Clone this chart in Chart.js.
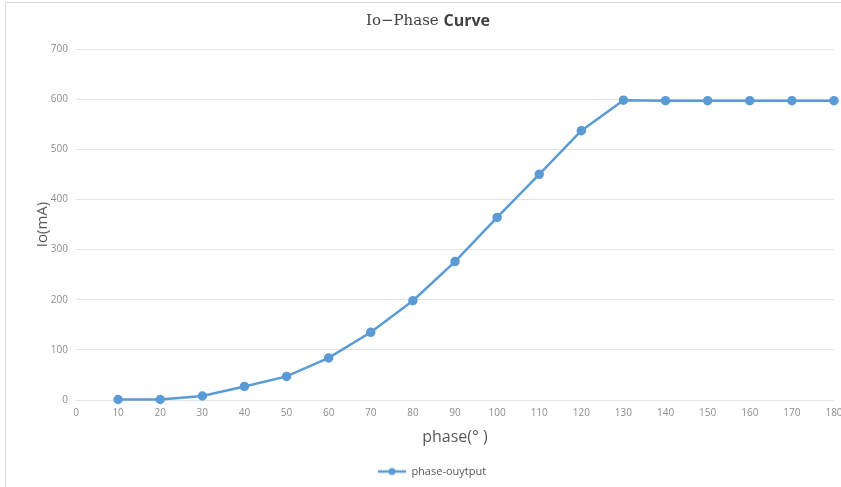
<!DOCTYPE html>
<html>
<head>
<meta charset="utf-8">
<script src="https://cdn.jsdelivr.net/npm/chart.js@4.4.1/dist/chart.umd.min.js"></script>
<style>
  html, body { margin: 0; padding: 0; background: #fff; }
  #wrap { position: relative; width: 841px; height: 487px; overflow: hidden; }
  #frame { position: absolute; left: 5px; top: 2px; width: 900px; height: 600px;
           border-left: 1px solid #d9d9d9; border-top: 1px solid #d9d9d9; pointer-events: none; }
  #box { position: absolute; left: 0; top: 0; width: 860px; height: 487px; }
</style>
</head>
<body>
<div id="wrap">
  <div id="box"><canvas id="curve"></canvas></div>
  <div id="frame"></div>
</div>
<script>
const phases = [10, 20, 30, 40, 50, 60, 70, 80, 90, 100, 110, 120, 130, 140, 150, 160, 170, 180];
const currents = [1, 1, 8, 27, 47, 84, 135, 198, 276, 364, 450, 537, 598, 597, 597, 597, 597, 597];
const seriesName = 'phase-ouytput';
const blue = '#5b9bd5';

// legend marker: short line with a dot, like the spreadsheet legend
const marker = document.createElement('canvas');
marker.width = 28; marker.height = 10;
const mctx = marker.getContext('2d');
mctx.strokeStyle = blue; mctx.lineWidth = 2.5;
mctx.beginPath(); mctx.moveTo(0, 5); mctx.lineTo(28, 5); mctx.stroke();
mctx.fillStyle = blue;
mctx.beginPath(); mctx.arc(14, 5, 3.5, 0, Math.PI * 2); mctx.fill();

// title is drawn in two fonts
const titlePlugin = {
    id: 'mixedTitle',
    afterDraw(chart) {
        const ctx = chart.ctx;
        const a = 'Io\u2212Phase ';
        const b = 'Curve';
        ctx.save();
        ctx.fillStyle = '#404040';
        ctx.textBaseline = 'middle';
        ctx.font = '15px "DejaVu Serif", "Liberation Serif", serif';
        const wa = ctx.measureText(a).width;
        ctx.font = 'bold 16px "Open Sans", "Noto Sans", sans-serif';
        const wb = ctx.measureText(b).width;
        let x = 428 - (wa + wb) / 2;
        ctx.font = '15px "DejaVu Serif", "Liberation Serif", serif';
        ctx.fillText(a, x, 21);
        ctx.font = 'bold 16px "Open Sans", "Noto Sans", sans-serif';
        ctx.fillText(b, x + wa, 21);
        ctx.restore();
    }
};

new Chart(document.getElementById('curve').getContext('2d'), {
    type: 'line',
    data: {
        datasets: [{
            label: seriesName,
            data: phases.map((p, i) => ({ x: p, y: currents[i] })),
            borderColor: blue,
            backgroundColor: blue,
            borderWidth: 2.5,
            pointRadius: 3.5,
            pointHoverRadius: 4,
            tension: 0,
            clip: false
        }]
    },
    options: {
        responsive: true,
        maintainAspectRatio: false,
        animation: false,
        layout: { padding: { left: 30, right: 26, top: 49, bottom: 0 } },
        plugins: {
            title: { display: false },
            tooltip: { enabled: false },
            legend: {
                position: 'bottom',
                labels: {
                    usePointStyle: true,
                    pointStyleWidth: 28,
                    padding: 12,
                    color: '#595959',
                    font: { family: '"Open Sans", "Noto Sans", sans-serif', size: 11 },
                    generateLabels(chart) {
                        return Chart.defaults.plugins.legend.labels.generateLabels(chart).map(item => {
                            item.pointStyle = marker;
                            return item;
                        });
                    }
                }
            }
        },
        scales: {
            x: {
                type: 'linear',
                min: 0,
                max: 180,
                grid: { display: false, drawTicks: false },
                border: { display: false },
                ticks: {
                    stepSize: 10,
                    padding: 7,
                    color: '#8c8c8c',
                    font: { family: '"Open Sans", "Noto Sans", sans-serif', size: 10 }
                },
                title: {
                    display: true,
                    text: 'phase(\u00b0 )',
                    color: '#595959',
                    font: { family: '"Open Sans", "Noto Sans", sans-serif', size: 16 },
                    padding: { top: 2, bottom: 7 }
                },
                afterFit(scale) { scale.height = 54; }
            },
            y: {
                min: 0,
                max: 700,
                grid: { color: '#e4e4e4', drawTicks: false },
                border: { display: false },
                ticks: {
                    stepSize: 100,
                    padding: 8,
                    color: '#8c8c8c',
                    font: { family: '"Open Sans", "Noto Sans", sans-serif', size: 10 }
                },
                title: {
                    display: true,
                    text: 'Io(mA)',
                    color: '#595959',
                    font: { family: '"Open Sans", "Noto Sans", sans-serif', size: 15 },
                    padding: { top: 4, bottom: 4 }
                },
                afterFit(scale) { scale.width = 46; }
            }
        }
    },
    plugins: [titlePlugin]
});
</script>
</body>
</html>
